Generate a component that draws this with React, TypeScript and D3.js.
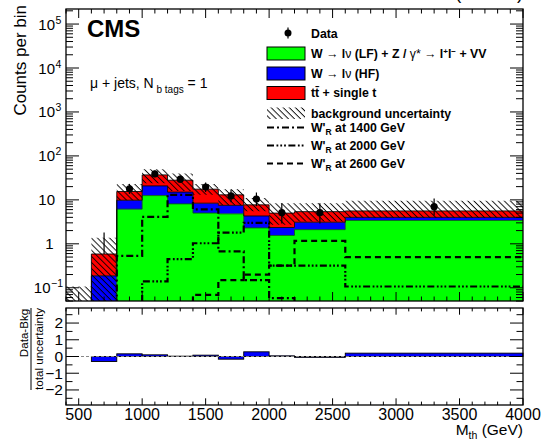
import React from "react";
import * as d3 from "d3";

// ---- data ----
const binEdges = [400, 600, 800, 1000, 1200, 1400, 1600, 1800, 2000, 2200, 2600, 4000];
const wLfValues = [0, 0.01, 6.15, 12.5, 8.1, 5.0, 4.8, 2.3, 1.55, 2.1, 3.4];
const wHfValues = [0, 0.177, 3.65, 8.3, 6.9, 3.4, 2.7, 2.0, 0.8, 1.0, 0.6];
const ttbarValues = [0, 0.4, 5.7, 16.2, 13, 9.1, 5.5, 3.4, 2.65, 2.3, 1.6];
const bandLow = [0.001, 0.005, 9.8, 24, 16, 13, 7.5, 5.5, 2.7, 3.2, 3.9];
const bandHigh = [0.107, 1.37, 23, 50, 40, 23, 17.5, 11, 8.4, 8.4, 9.6];
const dataValues = [null, 0, 17.8, 39, 29.5, 19.5, 12.3, 10.4, 5.1, 5.1, 7.0];
const dataErrLow = [0, 0, 4.2, 6.2, 5.4, 4.4, 3.5, 3.2, 2.2, 2.2, 2.6];
const dataErrHigh = [0, 1.8, 5.3, 7.3, 6.5, 5.3, 4.6, 4.3, 3.3, 3.3, 3.7];
const sig1400 = [0, 0.01, 0.53, 4.1, 13, 6.1, 0.67, 0.15, 0.058, 0.04, 0.03];
const sig2000 = [0, 0, 0.03, 0.14, 0.45, 1.03, 1.8, 3.0, 0.32, 0.32, 0.107];
const sig2600 = [0, 0, 0, 0.02, 0.04, 0.069, 0.15, 0.2, 0.32, 1.17, 0.5];
const pullValues = [null, -0.3, 0.16, 0.1, 0.02, 0.08, -0.16, 0.28, 0.04, -0.05, 0.2];
const xTickLabels = [500, 1000, 1500, 2000, 2500, 3000, 3500, 4000];
const ratioTickLabels = [-2, -1, 0, 1, 2];

const FONT = "'Liberation Sans', Arial, Helvetica, sans-serif";
const W = 543;
const H = 439;
const L = 66, RGT = 523, TOP = 9, BOT = 301;
const RTOP = 308, RBOT = 405;

const x = d3.scaleLinear().domain([400, 4000]).range([L, RGT]);
const y = d3.scaleLog().domain([0.05, 2.2e5]).range([BOT, TOP]);
const ry = d3.scaleLinear().domain([-2.9, 2.9]).range([RBOT, RTOP]);
const lo = (v: number) => Math.max(v, 1e-3);

type SP = { x: number; y0: number; y1: number };
const stepPts = (lower: number[], upper: number[]): SP[] =>
  upper.flatMap((v, i) => [
    { x: binEdges[i], y0: lower[i], y1: v },
    { x: binEdges[i + 1], y0: lower[i], y1: v },
  ]);

const areaGen = d3
  .area<SP>()
  .x((d) => x(d.x))
  .y0((d) => y(lo(d.y0)))
  .y1((d) => y(lo(d.y1)));
const lineGen = d3
  .line<SP>()
  .x((d) => x(d.x))
  .y((d) => y(lo(d.y1)));

const stackRows = binEdges.slice(0, -1).map((_, i) => ({
  wlf: wLfValues[i],
  whf: wHfValues[i],
  tt: ttbarValues[i],
}));
const series = d3.stack<any>().keys(["wlf", "whf", "tt"])(stackRows);
const layerColors = ["#00ff00", "#0000ff", "#ff0000"];

const zeros = binEdges.slice(0, -1).map(() => 0);

function LogLabel({ t }: { t: number }) {
  const k = Math.round(Math.log10(t));
  const yy = y(t) + 5.5;
  if (k === 0)
    return (
      <text x={53.5} y={yy} textAnchor="end" fontSize={15}>
        1
      </text>
    );
  if (k === 1)
    return (
      <text x={55} y={yy} textAnchor="end" fontSize={15}>
        10
      </text>
    );
  const baseEnd = k < 0 ? 50.5 : 55;
  return (
    <g>
      <text x={baseEnd} y={yy} textAnchor="end" fontSize={15}>
        10
      </text>
      <text x={baseEnd + 0.5} y={yy - 6} fontSize={10.5}>
        {k < 0 ? "\u2212" + -k : String(k)}
      </text>
    </g>
  );
}

export default function App() {
  const yTicks = y.ticks();
  const isMajor = (t: number) => Math.abs(Math.log10(t) - Math.round(Math.log10(t))) < 1e-6;
  const xTicks = x.ticks(36);
  const xMajor = (t: number) => t % 500 === 0;
  const rTicks = ry.ticks(12);
  const rMajor = (t: number) => Math.abs(t - Math.round(t)) < 1e-6;

  const sigLines = [
    { vals: sig1400, dash: "7,3,2,3" },
    { vals: sig2000, dash: "7,2.5,1.8,2,1.8,2,1.8,2.5" },
    { vals: sig2600, dash: "6,4" },
  ];

  const dataIdx = dataValues.map((v, i) => i).filter((i) => dataValues[i] !== null);

  return (
    <svg
      width={W}
      height={H}
      style={{ position: "absolute", left: 0, top: 0, background: "#fff" }}
      fontFamily={FONT}
    >
      <defs>
        <clipPath id="mainClip">
          <rect x={L} y={TOP} width={RGT - L} height={BOT - TOP} />
        </clipPath>
        <pattern
          id="hatch"
          patternUnits="userSpaceOnUse"
          width={10}
          height={4.3}
          patternTransform="rotate(45)"
        >
          <line x1={0} y1={0.5} x2={10} y2={0.5} stroke="#000" strokeWidth={0.9} />
        </pattern>
      </defs>
      <rect x={0} y={0} width={W} height={H} fill="#fff" />

      {/* lumi label (cut at top, as in the reference) */}
      <text x={RGT} y={-1} textAnchor="end" fontSize={18}>
        2.6 fb⁻¹ (13 TeV)
      </text>

      {/* ---------- main panel ---------- */}
      <g clipPath="url(#mainClip)">
        {dataIdx
          .filter((i) => dataValues[i] === 0)
          .map((i) => {
            const cx = x((binEdges[i] + binEdges[i + 1]) / 2);
            return (
              <line
                key={"z" + i}
                x1={cx}
                x2={cx}
                y1={y(lo(dataErrHigh[i]))}
                y2={BOT}
                stroke="#000"
                strokeWidth={1.2}
              />
            );
          })}
        {series.map((s, k) => {
          const pts = stepPts(
            s.map((d) => d[0]),
            s.map((d) => d[1])
          );
          return <path key={"a" + k} d={areaGen(pts) || ""} fill={layerColors[k]} />;
        })}
        {series.map((s, k) => {
          const pts = stepPts(
            s.map((d) => d[0]),
            s.map((d) => d[1])
          );
          return (
            <path
              key={"l" + k}
              d={lineGen(pts) || ""}
              fill="none"
              stroke={k === 0 ? "#006400" : "#000"}
              strokeWidth={1}
              strokeOpacity={0.85}
            />
          );
        })}
        <path d={areaGen(stepPts(bandLow, bandHigh)) || ""} fill="url(#hatch)" />
        {sigLines.map((s, k) => (
          <path
            key={"s" + k}
            d={lineGen(stepPts(zeros, s.vals)) || ""}
            fill="none"
            stroke="#000"
            strokeWidth={2.2}
            strokeDasharray={s.dash}
          />
        ))}
        {dataIdx
          .filter((i) => (dataValues[i] as number) > 0)
          .map((i) => {
            const v = dataValues[i] as number;
            const cx = x((binEdges[i] + binEdges[i + 1]) / 2);
            return (
              <g key={"d" + i}>
                <line
                  x1={cx}
                  x2={cx}
                  y1={y(v + dataErrHigh[i])}
                  y2={y(lo(v - dataErrLow[i]))}
                  stroke="#000"
                  strokeWidth={1.2}
                />
                <circle cx={cx} cy={y(v)} r={3.6} fill="#000" />
              </g>
            );
          })}
      </g>

      {/* main axes ticks */}
      {yTicks.map((t, i) => {
        const len = isMajor(t) ? 13 : 7;
        const yy = y(t);
        return (
          <g key={"yt" + i} stroke="#000" strokeWidth={1}>
            <line x1={L} x2={L + len} y1={yy} y2={yy} />
            <line x1={RGT} x2={RGT - len} y1={yy} y2={yy} />
          </g>
        );
      })}
      {xTicks.map((t, i) => {
        const len = xMajor(t) ? 9 : 4.5;
        const xx = x(t);
        return (
          <g key={"xt" + i} stroke="#000" strokeWidth={1}>
            <line x1={xx} x2={xx} y1={BOT} y2={BOT - len} />
            <line x1={xx} x2={xx} y1={TOP} y2={TOP + len} />
          </g>
        );
      })}
      <rect x={L} y={TOP} width={RGT - L} height={BOT - TOP} fill="none" stroke="#000" strokeWidth={1.3} />
      {yTicks.filter(isMajor).map((t, i) => (
        <LogLabel key={"yl" + i} t={t} />
      ))}

      <g transform={`translate(26,5) rotate(-90)`}>
        <text textAnchor="end" fontSize={17}>
          Counts per bin
        </text>
      </g>

      <text x={87} y={37} fontSize={24} fontWeight="bold">
        CMS
      </text>
      <text x={90} y={88} fontSize={14}>
        μ + jets, N
        <tspan dy={5} fontSize={10}>
          {" "}b tags
        </tspan>
        <tspan dy={-5}> = 1</tspan>
      </text>

      {/* legend */}
      <g fontSize={12.3} fontWeight="bold">
        <line x1={288} x2={288} y1={27.5} y2={38.5} stroke="#000" strokeWidth={1.2} />
        <circle cx={288} cy={33} r={3.5} fill="#000" />
        <text x={311} y={37.5}>Data</text>

        <rect x={267} y={47} width={38} height={13} fill="#00ff00" stroke="#000" strokeWidth={1} />
        <text x={311} y={57.5}>
          W <tspan fontWeight="normal">→</tspan> l<tspan fontWeight="normal">ν</tspan> (LF) + Z /{" "}
          <tspan fontWeight="normal">γ*</tspan> <tspan fontWeight="normal">→</tspan> l
          <tspan dy={-4} fontSize={8}>+</tspan>
          <tspan dy={4}>l</tspan>
          <tspan dy={-4} fontSize={8}>−</tspan>
          <tspan dy={4}> + VV</tspan>
        </text>

        <rect x={267} y={67} width={38} height={13} fill="#0000ff" stroke="#000" strokeWidth={1} />
        <text x={311} y={77.5}>
          W <tspan fontWeight="normal">→</tspan> l<tspan fontWeight="normal">ν</tspan> (HF)
        </text>

        <rect x={267} y={86.5} width={38} height={13} fill="#ff0000" stroke="#000" strokeWidth={1} />
        <text x={311} y={97}>tt̄ + single t</text>

        <rect x={267} y={107.5} width={38} height={11.5} fill="url(#hatch)" />
        <text x={311} y={117.5}>background uncertainty</text>

        {sigLines.map((s, k) => {
          const cy = [127.5, 145.5, 163.5][k];
          const mass = ["1400", "2000", "2600"][k];
          return (
            <g key={"lg" + k}>
              <line
                x1={267}
                x2={305}
                y1={cy}
                y2={cy}
                stroke="#000"
                strokeWidth={2.2}
                strokeDasharray={s.dash}
              />
              <text x={311} y={cy + 4.3}>
                W'
                <tspan dy={3} fontSize={8.5}>
                  R
                </tspan>
                <tspan dy={-3}> at {mass} GeV</tspan>
              </text>
            </g>
          );
        })}
      </g>

      {/* ---------- ratio panel ---------- */}
      {pullValues.map((v, i) => {
        if (v === null) return null;
        const x0 = x(binEdges[i]);
        const x1 = x(binEdges[i + 1]);
        const ya = ry(Math.max(v, 0));
        const yb = ry(Math.min(v, 0));
        return (
          <rect
            key={"p" + i}
            x={x0}
            y={ya}
            width={x1 - x0}
            height={Math.max(yb - ya, 0.01)}
            fill="#0000ff"
            stroke="#000"
            strokeWidth={0.9}
          />
        );
      })}
      <line
        x1={L}
        x2={RGT}
        y1={ry(0)}
        y2={ry(0)}
        stroke="#888"
        strokeWidth={1}
        strokeDasharray="3,2"
      />
      {rTicks.map((t, i) => {
        const len = rMajor(t) ? 13 : 6.5;
        const yy = ry(t);
        return (
          <g key={"rt" + i} stroke="#000" strokeWidth={1}>
            <line x1={L} x2={L + len} y1={yy} y2={yy} />
            <line x1={RGT} x2={RGT - len} y1={yy} y2={yy} />
          </g>
        );
      })}
      {xTicks.map((t, i) => {
        const len = xMajor(t) ? 6.7 : 3.4;
        const xx = x(t);
        return (
          <g key={"rxt" + i} stroke="#000" strokeWidth={1}>
            <line x1={xx} x2={xx} y1={RBOT} y2={RBOT - len} />
            <line x1={xx} x2={xx} y1={RTOP} y2={RTOP + len} />
          </g>
        );
      })}
      <rect x={L} y={RTOP} width={RGT - L} height={RBOT - RTOP} fill="none" stroke="#000" strokeWidth={1.3} />
      {ratioTickLabels.map((t) => (
        <text key={"rl" + t} x={63} y={ry(t) + 5.3} textAnchor="end" fontSize={15.5}>
          {t < 0 ? "\u2212" + -t : String(t)}
        </text>
      ))}
      {xTickLabels.map((t) => (
        <text key={"xl" + t} x={x(t)} y={419.5} textAnchor="middle" fontSize={16}>
          {t}
        </text>
      ))}

      <g transform="translate(28,333) rotate(-90)">
        <text textAnchor="middle" fontSize={11.6}>
          Data-Bkg
        </text>
      </g>
      <line x1={31} x2={31} y1={308} y2={390} stroke="#000" strokeWidth={1} />
      <g transform="translate(42.5,349) rotate(-90)">
        <text textAnchor="middle" fontSize={11.6}>
          total uncertainty
        </text>
      </g>

      <text x={RGT} y={435} textAnchor="end" fontSize={15.5}>
        M
        <tspan dy={3.5} fontSize={10.5}>
          th
        </tspan>
        <tspan dy={-3.5}> (GeV)</tspan>
      </text>
    </svg>
  );
}
